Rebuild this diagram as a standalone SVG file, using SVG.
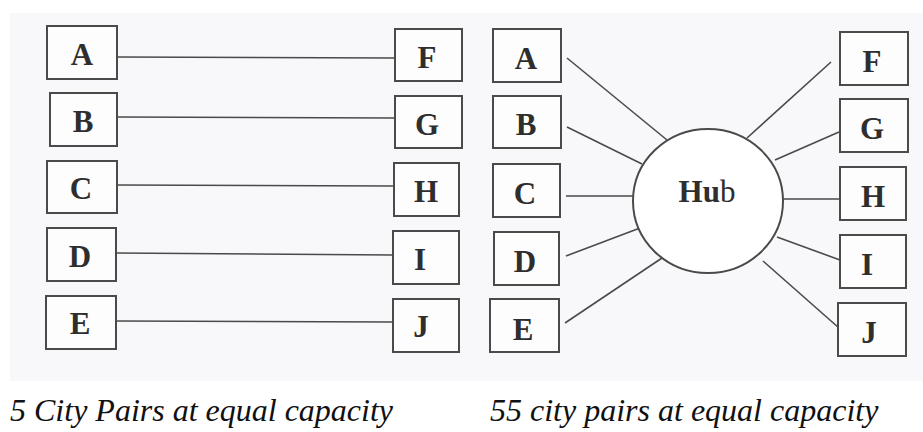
<svg xmlns="http://www.w3.org/2000/svg" width="923" height="432" viewBox="0 0 923 432">
<style>
.box{fill:#fdfdfd;stroke:#4a4a4a;stroke-width:2}
.lbl{font-family:"Liberation Serif","Times New Roman",serif;font-weight:bold;font-size:31px;fill:#2e2e2e;text-anchor:middle}
.ln{stroke:#4a4a4a;stroke-width:1.6;fill:none}
.cap{font-family:"Liberation Serif","Times New Roman",serif;font-style:italic;font-size:32px;fill:#111}
</style>
<rect x="0" y="0" width="923" height="432" fill="#ffffff"/>
<rect x="10" y="13" width="913" height="368" fill="#f8f8fa"/>
<g id="connectors">
<line class="ln" x1="117" y1="57" x2="395" y2="58"/>
<line class="ln" x1="117" y1="117" x2="395" y2="118"/>
<line class="ln" x1="117" y1="185" x2="394" y2="186"/>
<line class="ln" x1="116" y1="253" x2="393" y2="255"/>
<line class="ln" x1="116" y1="321" x2="393" y2="322"/>
<line class="ln" x1="567" y1="58" x2="667" y2="140"/>
<line class="ln" x1="567" y1="127" x2="642" y2="164"/>
<line class="ln" x1="566" y1="196" x2="634" y2="196"/>
<line class="ln" x1="566" y1="256" x2="640" y2="228"/>
<line class="ln" x1="565" y1="323" x2="662" y2="258"/>
<line class="ln" x1="831" y1="62" x2="747" y2="138"/>
<line class="ln" x1="839" y1="132" x2="775" y2="160"/>
<line class="ln" x1="783" y1="199" x2="840" y2="199"/>
<line class="ln" x1="777" y1="237" x2="840" y2="260"/>
<line class="ln" x1="763" y1="261" x2="839" y2="328"/>
</g>
<g id="L-A"><rect class="box" x="47" y="26" width="70" height="53"/><text class="lbl" x="82" y="65">A</text></g>
<g id="L-B"><rect class="box" x="50" y="93" width="67" height="53"/><text class="lbl" x="83" y="132">B</text></g>
<g id="L-C"><rect class="box" x="47" y="161" width="70" height="52"/><text class="lbl" x="81" y="199">C</text></g>
<g id="L-D"><rect class="box" x="47" y="228" width="69" height="53"/><text class="lbl" x="80" y="267">D</text></g>
<g id="L-E"><rect class="box" x="46" y="296" width="70" height="53"/><text class="lbl" x="80" y="334">E</text></g>
<g id="L-F"><rect class="box" x="395" y="29" width="67" height="52"/><text class="lbl" x="427" y="68">F</text></g>
<g id="L-G"><rect class="box" x="395" y="96" width="67" height="52"/><text class="lbl" x="427" y="135">G</text></g>
<g id="L-H"><rect class="box" x="394" y="163" width="65" height="53"/><text class="lbl" x="426" y="202">H</text></g>
<g id="L-I"><rect class="box" x="393" y="231" width="66" height="53"/><text class="lbl" x="420" y="270">I</text></g>
<g id="L-J"><rect class="box" x="393" y="299" width="66" height="53"/><text class="lbl" x="421" y="337">J</text></g>
<g id="R-A"><rect class="box" x="493" y="29" width="68" height="53"/><text class="lbl" x="526" y="69">A</text></g>
<g id="R-B"><rect class="box" x="493" y="96" width="68" height="52"/><text class="lbl" x="526" y="135">B</text></g>
<g id="R-C"><rect class="box" x="493" y="164" width="67" height="53"/><text class="lbl" x="525" y="204">C</text></g>
<g id="R-D"><rect class="box" x="494" y="232" width="65" height="53"/><text class="lbl" x="525" y="272">D</text></g>
<g id="R-E"><rect class="box" x="490" y="299" width="69" height="53"/><text class="lbl" x="523" y="340">E</text></g>
<g id="R-F"><rect class="box" x="840" y="32" width="68" height="53"/><text class="lbl" x="872" y="72">F</text></g>
<g id="R-G"><rect class="box" x="840" y="99" width="68" height="53"/><text class="lbl" x="872" y="139">G</text></g>
<g id="R-H"><rect class="box" x="840" y="167" width="66" height="53"/><text class="lbl" x="873" y="207">H</text></g>
<g id="R-I"><rect class="box" x="840" y="235" width="66" height="53"/><text class="lbl" x="867" y="275">I</text></g>
<g id="R-J"><rect class="box" x="838" y="303" width="68" height="53"/><text class="lbl" x="869" y="343">J</text></g>
<g id="hub"><ellipse cx="708" cy="201" rx="75" ry="72" fill="#ffffff" stroke="#4a4a4a" stroke-width="2"/><text class="lbl" x="707" y="202" font-size="30">Hu<tspan font-weight="normal">b</tspan></text></g>
<text class="cap" x="10" y="421">5 City Pairs at equal capacity</text>
<text class="cap" x="490" y="421">55 city pairs at equal capacity</text>
</svg>
